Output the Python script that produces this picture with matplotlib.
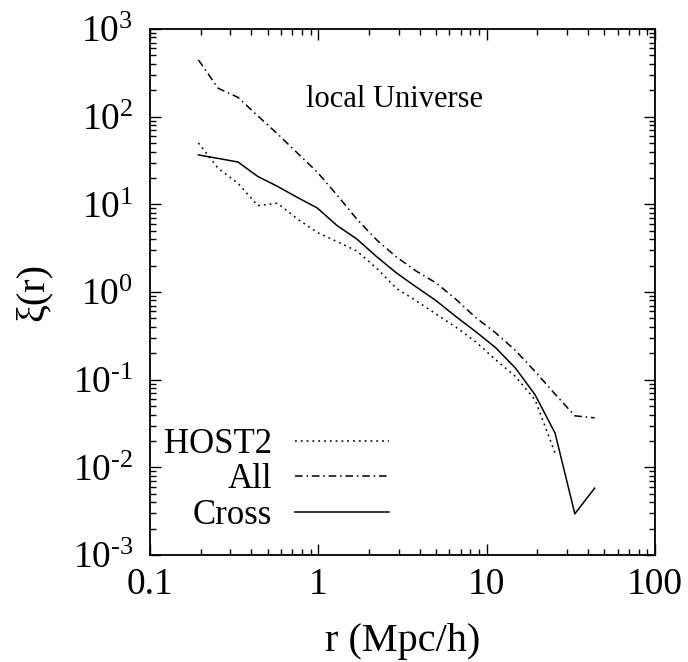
import matplotlib
matplotlib.use('Agg')
import matplotlib.pyplot as plt
from matplotlib.ticker import LogLocator, FixedLocator, FixedFormatter, NullFormatter

plt.rcParams['font.family'] = ['Liberation Serif', 'DejaVu Serif']
plt.rcParams['mathtext.fontset'] = 'custom'
plt.rcParams['mathtext.rm'] = 'Liberation Serif'
plt.rcParams['mathtext.it'] = 'Liberation Serif:italic'

# separation bins (Mpc/h)
r = [0.194, 0.254, 0.333, 0.437, 0.573, 0.750, 0.984, 1.29, 1.69, 2.22, 2.91,
     3.82, 5.00, 6.56, 8.61, 11.3, 14.8, 19.4, 25.5, 33.4, 43.8]

xi_host2 = [50.1, 25.7, 17.4, 9.67, 10.3, 6.82, 4.78, 3.76, 2.94, 1.87, 1.10,
            0.792, 0.562, 0.397, 0.270, 0.169, 0.109, 0.0589, 0.0145]
xi_all = [443, 211, 166, 102, 63.5, 38.5, 23.4, 12.8, 6.82, 3.93, 2.51,
          1.73, 1.27, 0.828, 0.511, 0.342, 0.216, 0.124, 0.0684, 0.0387, 0.0367]
xi_cross = [36.6, 33.4, 30.4, 20.8, 16.0, 12.0, 9.10, 5.74, 4.03, 2.53, 1.65,
            1.14, 0.798, 0.525, 0.353, 0.232, 0.136, 0.0671, 0.0245, 0.00295, 0.00579]

x_ticks = [0.1, 1, 10, 100]
x_ticklabels = ['0.1', '1', '10', '100']
y_ticks = [1e-3, 1e-2, 1e-1, 1, 10, 100, 1000]
y_ticklabels = [r'$10^{\text{-}3}$', r'$10^{\text{-}2}$', r'$10^{\text{-}1}$',
                r'$10^{0}$', r'$10^{1}$', r'$10^{2}$', r'$10^{3}$']

fig = plt.figure(figsize=(6.88, 6.62), dpi=100)
ax = fig.add_axes([150 / 688, 107 / 662, 505 / 688, 526 / 662])

lw = 1.1
ax.plot(r[:len(xi_host2)], xi_host2, color='black', lw=lw, linestyle=(0, (1.2, 2.6)), label='HOST2')
ax.plot(r, xi_all, color='black', lw=lw, linestyle=(0, (5, 2.5, 1, 2.5)), label='All')
ax.plot(r, xi_cross, color='black', lw=lw, linestyle='-', label='Cross')

ax.set_xscale('log')
ax.set_yscale('log')
ax.set_xlim(0.1, 100)
ax.set_ylim(1e-3, 1e3)

ax.xaxis.set_major_locator(FixedLocator(x_ticks))
ax.xaxis.set_major_formatter(FixedFormatter(x_ticklabels))
ax.xaxis.set_minor_locator(LogLocator(base=10, subs=range(2, 10)))
ax.xaxis.set_minor_formatter(NullFormatter())
ax.yaxis.set_major_locator(FixedLocator(y_ticks))
ax.yaxis.set_major_formatter(FixedFormatter(y_ticklabels))
ax.yaxis.set_minor_locator(LogLocator(base=10, subs=range(2, 10), numticks=20))
ax.yaxis.set_minor_formatter(NullFormatter())

ax.tick_params(which='both', direction='in', top=True, right=True, width=1.0)
ax.tick_params(which='major', length=8, labelsize=27)
ax.tick_params(axis='x', which='major', pad=9)
ax.tick_params(axis='y', which='major', pad=12)
ax.tick_params(which='minor', length=4)
for s in ax.spines.values():
    s.set_linewidth(1.3)

ax.set_xlabel('r (Mpc/h)', fontsize=29, labelpad=15)
ax.set_ylabel('ξ(r)', fontsize=29, labelpad=15)

ax.text(0.485, 0.866, 'local Universe', transform=ax.transAxes, fontsize=22,
        ha='center', va='center')

ax.legend(loc='lower left', bbox_to_anchor=(-0.02, -0.003), markerfirst=False, frameon=False,
          fontsize=25, handlelength=2.7, handletextpad=0.65, labelspacing=0.08,
          borderaxespad=0.3)

fig.savefig('out.png', dpi=100)
